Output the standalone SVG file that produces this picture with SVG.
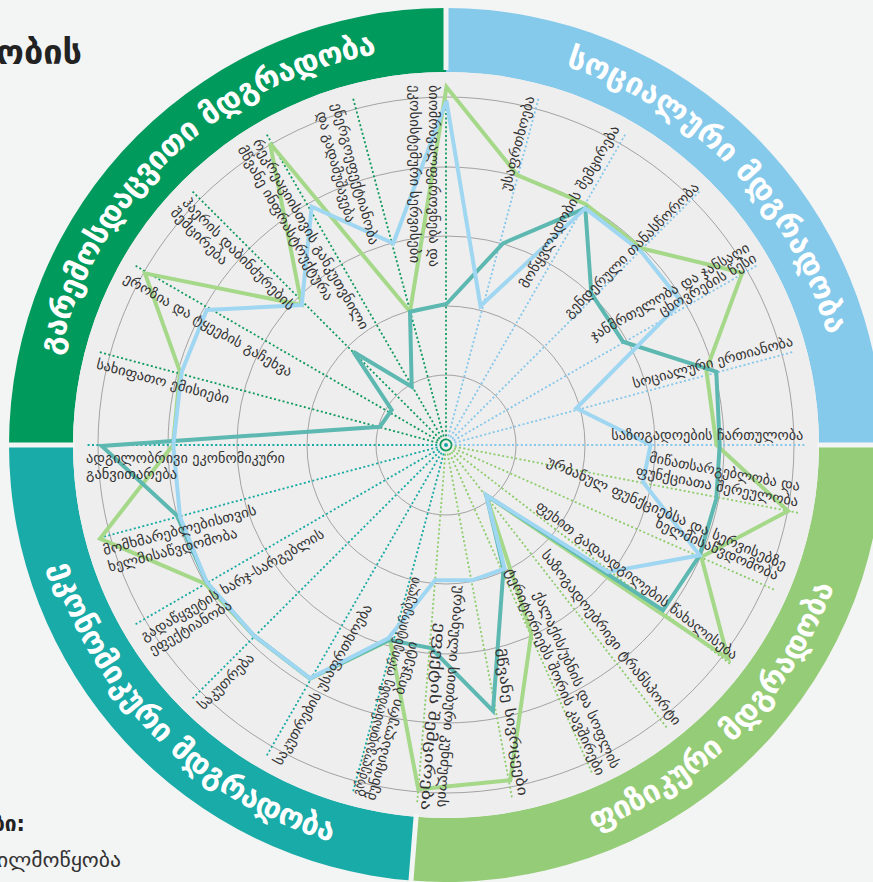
<svg xmlns="http://www.w3.org/2000/svg" width="873" height="882" viewBox="0 0 873 882">
<defs>
<style>
.lbl{font-family:"DejaVu Sans","Noto Sans",sans-serif;font-size:14px;fill:#333;dominant-baseline:central}
.rt{font-family:"DejaVu Sans","Noto Sans",sans-serif;font-weight:bold;font-size:31px;fill:#fff}
.sp{stroke-width:1.8;stroke-dasharray:2 2.4;fill:none}
.env{stroke:#0e9a5c}.soc{stroke:#84c7ea}.phy{stroke:#8ccc6a}.eco{stroke:#17a9a3}
.grid{fill:none;stroke:#a3a3a3;stroke-width:1}
.ser{fill:none;stroke-width:4;stroke-linejoin:miter;stroke-miterlimit:3}
.gap{stroke:#f3f4f4;stroke-width:5}
</style>
<path id="arcEnv" d="M59.2 355.7 A397 397 0 0 1 377.1 54"/>
<path id="arcSoc" d="M565.4 66.4 A397 397 0 0 1 827.6 335.6"/>
<path id="arcPhy" d="M594 830.6 A414 414 0 0 0 834.1 586.3"/>
<path id="arcEco" d="M51 565.7 A414 414 0 0 0 332.2 842"/>
</defs>
<rect width="873" height="882" fill="#f3f4f4"/>

<g id="ring">
<path d="M9 445 A437 437 0 0 1 446 8 L446 72 A373 373 0 0 0 73 445 Z" fill="#009a5d"/>
<path d="M446 8 A437 437 0 0 1 883 445 L819 445 A373 373 0 0 0 446 72 Z" fill="#85c9eb"/>
<path d="M883 445 A437 437 0 0 1 411 880.6 L416.1 816.8 A373 373 0 0 0 819 445 Z" fill="#95cc77"/>
<path d="M411 880.6 A437 437 0 0 1 9 445 L73 445 A373 373 0 0 0 416.1 816.8 Z" fill="#19aba7"/>
<circle cx="446" cy="445" r="373" fill="#eeeeee"/>
<line class="gap" x1="446" y1="70" x2="446" y2="4"/>
<line class="gap" x1="817" y1="445" x2="886" y2="445"/>
<line class="gap" x1="416.3" y1="814" x2="410.7" y2="884"/>
<line class="gap" x1="75" y1="445" x2="5" y2="445"/>
</g>

<g id="grid">
<circle class="grid" cx="446" cy="445" r="70"/>
<circle class="grid" cx="446" cy="445" r="139"/>
<circle class="grid" cx="446" cy="445" r="209"/>
<circle class="grid" cx="446" cy="445" r="278"/>
<circle class="grid" cx="446" cy="445" r="348"/>
</g>

<g id="connectors">
<line class="sp env" x1="446" y1="445" x2="446" y2="85"/>
<line class="sp env" x1="446" y1="445" x2="352.8" y2="97.3"/>
<line class="sp env" x1="446" y1="445" x2="266" y2="133.2"/>
<line class="sp env" x1="446" y1="445" x2="191.4" y2="190.4"/>
<line class="sp env" x1="446" y1="445" x2="134.2" y2="265"/>
<line class="sp env" x1="446" y1="445" x2="98.3" y2="351.8"/>
<line class="sp soc" x1="446" y1="445" x2="538.8" y2="97.3"/>
<line class="sp soc" x1="446" y1="445" x2="626" y2="133.2"/>
<line class="sp soc" x1="446" y1="445" x2="700.6" y2="190.4"/>
<line class="sp soc" x1="446" y1="445" x2="757.8" y2="265"/>
<line class="sp soc" x1="446" y1="445" x2="793.7" y2="351.8"/>
<line class="sp soc" x1="446" y1="445" x2="806" y2="445"/>
<line class="sp phy" x1="446" y1="445" x2="799.5" y2="513.1"/>
<line class="sp phy" x1="446" y1="445" x2="775.4" y2="590.2"/>
<line class="sp phy" x1="446" y1="445" x2="731.2" y2="664.7"/>
<line class="sp phy" x1="446" y1="445" x2="667.6" y2="728.7"/>
<line class="sp phy" x1="446" y1="445" x2="592.4" y2="773.9"/>
<line class="sp phy" x1="446" y1="445" x2="512.2" y2="798.9"/>
<line class="sp phy" x1="446" y1="445" x2="417.1" y2="803.8"/>
<line class="sp eco" x1="446" y1="445" x2="352.8" y2="792.7"/>
<line class="sp eco" x1="446" y1="445" x2="266" y2="756.8"/>
<line class="sp eco" x1="446" y1="445" x2="191.4" y2="699.6"/>
<line class="sp eco" x1="446" y1="445" x2="134.2" y2="625"/>
<line class="sp eco" x1="446" y1="445" x2="98.3" y2="538.2"/>
<line class="sp eco" x1="446" y1="445" x2="86" y2="445"/>
</g>

<g id="series">
<polygon id="s-green" class="ser" stroke="#a6d88a" points="446.5,87 517.3,175 585.3,204 641.3,248.3 742.3,272.7 706.3,370 716.5,445 788,511 701.3,557 728,658.7 486.3,495.3 531.3,633.7 510.3,780.3 418.3,789.3 390,640 310,678.7 253.3,635.3 205,583.7 100,538.7 173,445 180,371.7 145,273.3 301.7,305 270,143.3 410,311.7"/>
<polygon id="s-teal" class="ser" stroke="#5cb8b0" points="446.5,304 503,243.3 585.3,208.3 591.3,293.3 623,341.7 716.3,371.7 719.7,445 716.3,498.7 699.7,555.3 663,610.3 486.3,495.3 503.5,569 493,711 431,648 389,640 310,678.5 253.3,635 206.7,582.5 176.7,515.3 101.7,446 380,426.7 391.7,410 353.3,351.7 411.7,386.7 410,311.7"/>
<polygon id="s-blue" class="ser" stroke="#9fd6f1" points="446.5,101 480.5,306 585.3,208.3 641.3,251.7 681.3,301.7 576.3,408.3 650.5,445 643,482 699.7,555.3 608,572 486.3,495.3 504.7,568.7 472,580.3 435,580.3 388.3,638.3 310,678.3 253.3,635 206.7,582 180,517 173.3,445.3 181.7,371.7 206.7,310 301.7,305 311.7,206.7 393.3,243.3"/>
</g>

<g id="center">
<circle cx="446" cy="445" r="5.5" fill="#eeeeee" stroke="#0e9a5c" stroke-width="1.5"/>
<circle cx="446" cy="445" r="2" fill="#17a9a3"/>
</g>

<g id="labels">
<g id="l-e0"><text class="lbl" transform="translate(433.5,85) rotate(90)" textLength="182" lengthAdjust="spacingAndGlyphs">ბიომრავალფეროვნება და</text><text class="lbl" transform="translate(415,85) rotate(90)" textLength="178" lengthAdjust="spacingAndGlyphs">ეკოსისტემური სერვისები</text></g>
<g id="l-e345"><text class="lbl" transform="translate(336.7,103.3) rotate(75)" textLength="146" lengthAdjust="spacingAndGlyphs">ენერგოეფექტიანობა</text><text class="lbl" transform="translate(321.7,111.7) rotate(75)" textLength="114" lengthAdjust="spacingAndGlyphs">და გადამუშავება</text></g>
<g id="l-e330"><text class="lbl" transform="translate(256.7,140) rotate(60)" textLength="217" lengthAdjust="spacingAndGlyphs">რეკრეაციისთვის განკუთვნილი</text><text class="lbl" transform="translate(241.7,146.7) rotate(60)" textLength="176" lengthAdjust="spacingAndGlyphs">მწვანე ინფრასტრუქტურა</text></g>
<g id="l-e315"><text class="lbl" transform="translate(185,200) rotate(45)" textLength="152" lengthAdjust="spacingAndGlyphs">ჰაერის დაბინძურების</text><text class="lbl" transform="translate(173.3,210) rotate(45)" textLength="74" lengthAdjust="spacingAndGlyphs">შემცირება</text></g>
<g id="l-e300"><text class="lbl" transform="translate(125,276.7) rotate(30)" textLength="192" lengthAdjust="spacingAndGlyphs">ეროზია და ტყეების გაჩეხვა</text></g>
<g id="l-e285"><text class="lbl" transform="translate(96.7,363.3) rotate(15)" textLength="137" lengthAdjust="spacingAndGlyphs">სახიფათო ემისიები</text></g>

<g id="l-c270"><text class="lbl" transform="translate(86,458)" textLength="199" lengthAdjust="spacingAndGlyphs">ადგილობრივი ეკონომიკური</text><text class="lbl" transform="translate(86,473.7)" textLength="91" lengthAdjust="spacingAndGlyphs">განვითარება</text></g>
<g id="l-c255"><text class="lbl" transform="translate(103.3,550.3) rotate(-15)" textLength="158" lengthAdjust="spacingAndGlyphs">მომხმარებლებისთვის</text><text class="lbl" transform="translate(108.3,567) rotate(-15)" textLength="133" lengthAdjust="spacingAndGlyphs">ხელმისაწვდომობა</text></g>
<g id="l-c240"><text class="lbl" transform="translate(141.7,637) rotate(-30)" textLength="209" lengthAdjust="spacingAndGlyphs">გადაწყვეტის ხარჯ-სარგებლის</text><text class="lbl" transform="translate(150,650.3) rotate(-30)" textLength="93" lengthAdjust="spacingAndGlyphs">ეფექტიანობა</text></g>
<g id="l-c225"><text class="lbl" transform="translate(200,707) rotate(-45)" textLength="73" lengthAdjust="spacingAndGlyphs">საკუთრება</text></g>
<g id="l-c210"><text class="lbl" transform="translate(276.7,763.7) rotate(-60)" textLength="183" lengthAdjust="spacingAndGlyphs">საკუთრების უსაფრთხოება</text></g>
<g id="l-c195"><text class="lbl" transform="translate(356.7,795.3) rotate(-75)" textLength="226" lengthAdjust="spacingAndGlyphs">გრძელვადიანობაზე ორიენტირებული</text><text class="lbl" transform="translate(370,800) rotate(-75)" textLength="164" lengthAdjust="spacingAndGlyphs">მუნიციპალური ბიუჯეტი</text></g>

<g id="l-p1"><text class="lbl" transform="translate(649.7,457) rotate(10.9)" textLength="153" lengthAdjust="spacingAndGlyphs">მიწათსარგებლობა და</text><text class="lbl" transform="translate(636.3,470.3) rotate(10.9)" textLength="165" lengthAdjust="spacingAndGlyphs">ფუნქციათა შერეულობა</text></g>
<g id="l-p2"><text class="lbl" transform="translate(548,460.3) rotate(23.8)" textLength="260" lengthAdjust="spacingAndGlyphs">ურბანულ ფუნქციებსა და სერვისებზე</text><text class="lbl" transform="translate(656.3,522) rotate(23.8)" textLength="133" lengthAdjust="spacingAndGlyphs">ხელმისაწვდომობა</text></g>
<g id="l-p3"><text class="lbl" transform="translate(538,503.7) rotate(37.6)" textLength="250" lengthAdjust="spacingAndGlyphs">ფეხით გადაადგილების წახალისება</text></g>
<g id="l-p4"><text class="lbl" transform="translate(544.7,552) rotate(52)" textLength="217" lengthAdjust="spacingAndGlyphs">საზოგადოებრივი ტრანსპორტი</text></g>
<g id="l-p5"><text class="lbl" transform="translate(538,592) rotate(66)" textLength="192" lengthAdjust="spacingAndGlyphs">ქალაქის/უბნის და სოფლის</text><text class="lbl" transform="translate(509.7,568.7) rotate(66)" textLength="225" lengthAdjust="spacingAndGlyphs">ტერიტორიებს შორის კავშირები</text></g>
<g id="l-p6"><text class="lbl" transform="translate(500,648.3) rotate(81)" textLength="149" lengthAdjust="spacingAndGlyphs">მწვანე სივრცეები</text></g>
<g id="l-p7"><text class="lbl" transform="translate(460,586) rotate(94.6)" textLength="222" lengthAdjust="spacingAndGlyphs">ურბანული სითბური კუნძულის</text><text class="lbl" transform="translate(441,623) rotate(94.6)" textLength="188" lengthAdjust="spacingAndGlyphs">ეფექტის შემცირება</text></g>

<g id="l-s15"><text class="lbl" transform="translate(504.7,190) rotate(-75)" textLength="97" lengthAdjust="spacingAndGlyphs">უსაფრთხოება</text></g>
<g id="l-s30"><text class="lbl" transform="translate(523,286.7) rotate(-60)" textLength="185" lengthAdjust="spacingAndGlyphs">მოწყვლადობის შემცირება</text></g>
<g id="l-s45"><text class="lbl" transform="translate(566.3,315) rotate(-45)" textLength="184" lengthAdjust="spacingAndGlyphs">გენდერული თანასწორობა</text></g>
<g id="l-s60"><text class="lbl" transform="translate(591.3,336.7) rotate(-30)" textLength="181" lengthAdjust="spacingAndGlyphs">ჯანმრთელობა და ჯანსაღი</text><text class="lbl" transform="translate(659.7,311.7) rotate(-30)" textLength="110" lengthAdjust="spacingAndGlyphs">ცხოვრების წესი</text></g>
<g id="l-s75"><text class="lbl" transform="translate(633,383.3) rotate(-15)" textLength="165" lengthAdjust="spacingAndGlyphs">სოციალური ერთიანობა</text></g>
<g id="l-s90"><text class="lbl" transform="translate(611.3,435)" textLength="192" lengthAdjust="spacingAndGlyphs">საზოგადოების ჩართულობა</text></g>
</g>

<g id="ring-titles">
<text class="rt"><textPath href="#arcEnv" textLength="464">გარემოსდაცვითი მდგრადობა</textPath></text>
<text class="rt"><textPath href="#arcSoc" textLength="391">სოციალური მდგრადობა</textPath></text>
<text class="rt"><textPath href="#arcPhy" textLength="353">ფიზიკური მდგრადობა</textPath></text>
<text class="rt"><textPath href="#arcEco" textLength="410">ეკონომიკური მდგრადობა</textPath></text>
</g>

<g id="title">
<text x="82" y="64" text-anchor="end" font-family="DejaVu Sans, sans-serif" font-weight="bold" font-size="34" fill="#222" textLength="86" lengthAdjust="spacingAndGlyphs">ობის</text>
</g>
<g id="legend">
<text x="25" y="831" text-anchor="end" font-family="DejaVu Sans, sans-serif" font-weight="bold" font-size="21" fill="#222">ბი:</text>
<text x="-3" y="867" font-family="DejaVu Sans, sans-serif" font-size="19" fill="#333" textLength="124" lengthAdjust="spacingAndGlyphs">ილმოწყობა</text>
</g>
</svg>
